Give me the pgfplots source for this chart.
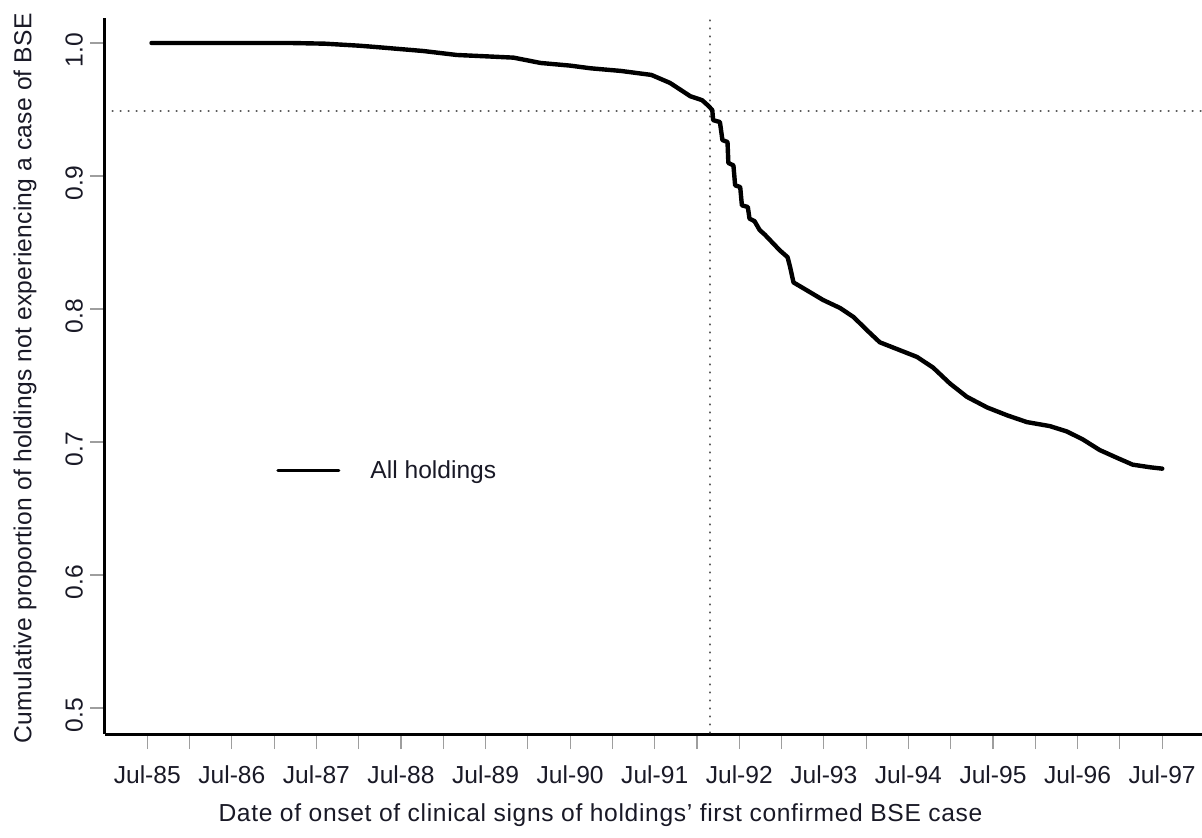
\documentclass[border=0pt]{standalone}
\usepackage{pgfplots}
\pgfplotsset{compat=1.18}
\usepackage{fontspec}
\setmainfont{Liberation Sans}
\definecolor{txt}{rgb}{0.10,0.10,0.15}
\definecolor{tickgray}{rgb}{0.62,0.62,0.62}
\definecolor{dotgray}{rgb}{0.30,0.30,0.30}
\begin{document}
\begin{tikzpicture}
\begin{axis}[
  scale only axis,
  width=548.5pt, height=358pt,
  xmin=1985.0, xmax=1997.97,
  ymin=0.4805, ymax=1.0188,
  axis x line*=bottom, axis y line*=left,
  axis line style={line width=1.5pt, black},
  tick align=outside,
  major tick length=7.5pt, minor tick length=7.5pt,
  every tick/.style={tickgray, line width=0.6pt},
  xtick={1985.5,1986.5,...,1997.5},
  xticklabels={Jul-85,Jul-86,Jul-87,Jul-88,Jul-89,Jul-90,Jul-91,Jul-92,Jul-93,Jul-94,Jul-95,Jul-96,Jul-97},
  minor xtick={1986,1987,...,1997},
  ytick={0.5,0.6,...,1.0},
  yticklabels={0.5,0.6,0.7,0.8,0.9,1.0},
  /pgf/number format/assume math mode=true,
  ticklabel style={font=\fontsize{12.3}{14}\selectfont, text=txt},
  xticklabel style={yshift=-5pt},
  yticklabel style={rotate=90, anchor=south, xshift=-3.5pt},
  label style={text=txt},
  xlabel={Date of onset of clinical signs of holdings' first confirmed BSE case},
  ylabel={Cumulative proportion of holdings not experiencing a case of BSE},
  xlabel style={at={(axis description cs:0.4517,-0.114)}, anchor=center,
    font=\fontsize{12.3}{14}\selectfont\addfontfeatures{LetterSpace=2.7}},
  ylabel style={at={(axis description cs:-0.0729,0.497)}, anchor=center,
    font=\fontsize{12.3}{14}\selectfont\addfontfeatures{LetterSpace=1.0}},
  clip=false,
  legend style={draw=none, fill=none, at={(axis cs:1987.02,0.6785)}, anchor=west,
    inner sep=0pt, font=\fontsize{12.3}{14}\selectfont, text=txt,
    legend cell align=left},
  legend image code/.code={\draw[black, line width=1.6pt] (0pt,0pt) -- (30.5pt,0pt);},
]
\addplot[dotgray, line width=1.2pt, dash pattern=on 0.01pt off 3.99pt, line cap=round, forget plot]
  coordinates {(1985.09,0.949) (1997.97,0.949)};
\addplot[dotgray, line width=1.2pt, dash pattern=on 0.01pt off 3.99pt, line cap=round, forget plot]
  coordinates {(1992.155,1.0170) (1992.155,0.4805)};
\addplot[black, line width=2.2pt, line join=round, line cap=round] coordinates {
(1985.55,1.000) (1986.5,1.000) (1987.2,1.000) (1987.6,0.9995) (1988.0,0.998)
(1988.2,0.997) (1988.76,0.994) (1989.16,0.991) (1989.5,0.990) (1989.83,0.989)
(1990.15,0.985) (1990.5,0.983) (1990.74,0.981) (1991.1,0.979) (1991.46,0.976)
(1991.68,0.970) (1991.80,0.965) (1991.92,0.960) (1992.06,0.957) (1992.13,0.953)
(1992.18,0.9496) (1992.19,0.942) (1992.27,0.9406) (1992.30,0.927) (1992.36,0.9256)
(1992.37,0.9098) (1992.43,0.908) (1992.45,0.893) (1992.51,0.8917) (1992.53,0.878)
(1992.60,0.8767) (1992.62,0.868) (1992.68,0.866) (1992.74,0.8594) (1992.80,0.856)
(1992.86,0.852) (1992.92,0.848) (1992.98,0.844) (1993.07,0.839) (1993.10,0.8316)
(1993.14,0.820) (1993.30,0.814) (1993.49,0.8068) (1993.69,0.8008) (1993.85,0.794)
(1994.01,0.784) (1994.16,0.775) (1994.40,0.769) (1994.60,0.764) (1994.79,0.756)
(1994.99,0.744) (1995.19,0.734) (1995.43,0.726) (1995.67,0.720) (1995.90,0.715)
(1996.17,0.712) (1996.37,0.708) (1996.56,0.702) (1996.76,0.694) (1996.97,0.688)
(1997.15,0.683) (1997.36,0.681) (1997.50,0.680)
};
\addlegendentry{\hspace{13pt}All holdings}
\coordinate (bl) at (rel axis cs:0,0);
\coordinate (tr) at (rel axis cs:1,1);
\end{axis}
\pgfresetboundingbox
\path ([xshift=-52.5pt,yshift=-51.5pt]bl) rectangle ([yshift=9pt]tr);
\end{tikzpicture}
\end{document}
